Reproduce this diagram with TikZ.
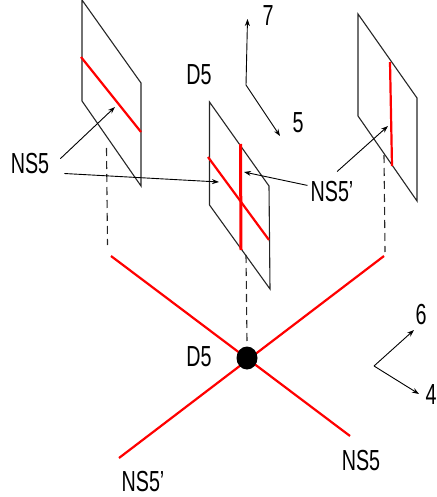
\documentclass[tikz,border=0pt]{standalone}
\usepackage{fontspec}
\setmainfont[FakeStretch=0.68]{Liberation Sans}
\usetikzlibrary{arrows.meta, shapes.geometric}
\tikzset{
    plane/.style={black!85, line width=1.1pt, line join=miter},
    brane/.style={red, line width=2.2pt},
    proj/.style={black!85, line width=1.1pt, dash pattern=on 8pt off 5pt},
    pointer/.style={-{Stealth[length=7pt,width=5pt]}, line width=0.9pt},
    lab/.style={font=\fontsize{29}{29}\selectfont, inner sep=0pt}
}
\begin{document}
\begin{tikzpicture}[x=1pt, y=-1pt]
    \useasboundingbox (0,0) rectangle (436,497);

    % Planes
    \draw[plane] (82,0) -- (141,83) -- (141,186) -- (82,101) -- cycle;
    \draw[plane] (209.5,102) -- (269,186) -- (270,289) -- (209.5,205) -- cycle;
    \draw[plane] (358,14) -- (417,98) -- (417,201) -- (358,116) -- cycle;

    % Branes on the planes
    \draw[brane] (81,57) -- (141,132);
    \draw[brane] (208,157) -- (269,240);
    \draw[brane, line width=3pt] (240.5,144) -- (241,250);
    \draw[brane] (390,62) -- (392,166);

    % Projections
    \draw[proj] (106.5,148) -- (107.5,245);
    \draw[proj] (246,255) -- (247,342);
    \draw[proj] (384,155) -- (385,252);

    % Crossing branes
    \coordinate (nsA) at (111,256);
    \coordinate (nsB) at (350,436);
    \coordinate (nspA) at (384,256);
    \coordinate (nspB) at (119,458);
    \draw[brane] (nsA) -- (nsB);
    \draw[brane] (nspA) -- (nspB);
    \node[fill=black, ellipse, inner sep=0pt, minimum width=21pt, minimum height=23pt] (dot) at (247,358) {};

    % Labels
    \node[lab, inner xsep=11pt, inner ysep=10pt] (nsfive) at (30,164) {NS5};
    \node[lab, inner xsep=3pt, inner ysep=10pt] (nsprime) at (332,192) {NS5'};
    \node[lab] (dfive) at (199,75) {D5};
    \node[lab] (dfivelow) at (199,357) {D5};
    \node[lab] (nsfivelow) at (361,461) {NS5};
    \node[lab] (nsprimelow) at (143,482) {NS5'};
    \node[lab] (seven) at (268,16) {7};
    \node[lab] (five) at (298,123) {5};
    \node[lab] (six) at (421,315) {6};
    \node[lab] (four) at (431,395) {4};

    % Pointers to the branes
    \coordinate (leftmark) at (115,107);
    \coordinate (midmark) at (219,182);
    \coordinate (vertmark) at (244,172);
    \coordinate (rightmark) at (388,126);
    \draw[pointer] (nsfive.10) -- (leftmark);
    \draw[pointer, shorten <=4pt] (nsfive.-17) -- (midmark);
    \draw[pointer] (nsprime.165) -- (vertmark);
    \draw[pointer] (nsprime.76) -- (rightmark);

    % Axes
    \coordinate (upper) at (246,85);
    \coordinate (lower) at (374,366);
    \coordinate (tipseven) at (247.5,19);
    \coordinate (tipfive) at (280,136);
    \coordinate (tipsix) at (414,330);
    \coordinate (tipfour) at (419,394);
    \draw[pointer] (upper) -- (tipseven);
    \draw[pointer] (upper) -- (tipfive);
    \draw[pointer] (lower) -- (tipsix);
    \draw[pointer] (lower) -- (tipfour);
\end{tikzpicture}
\end{document}
